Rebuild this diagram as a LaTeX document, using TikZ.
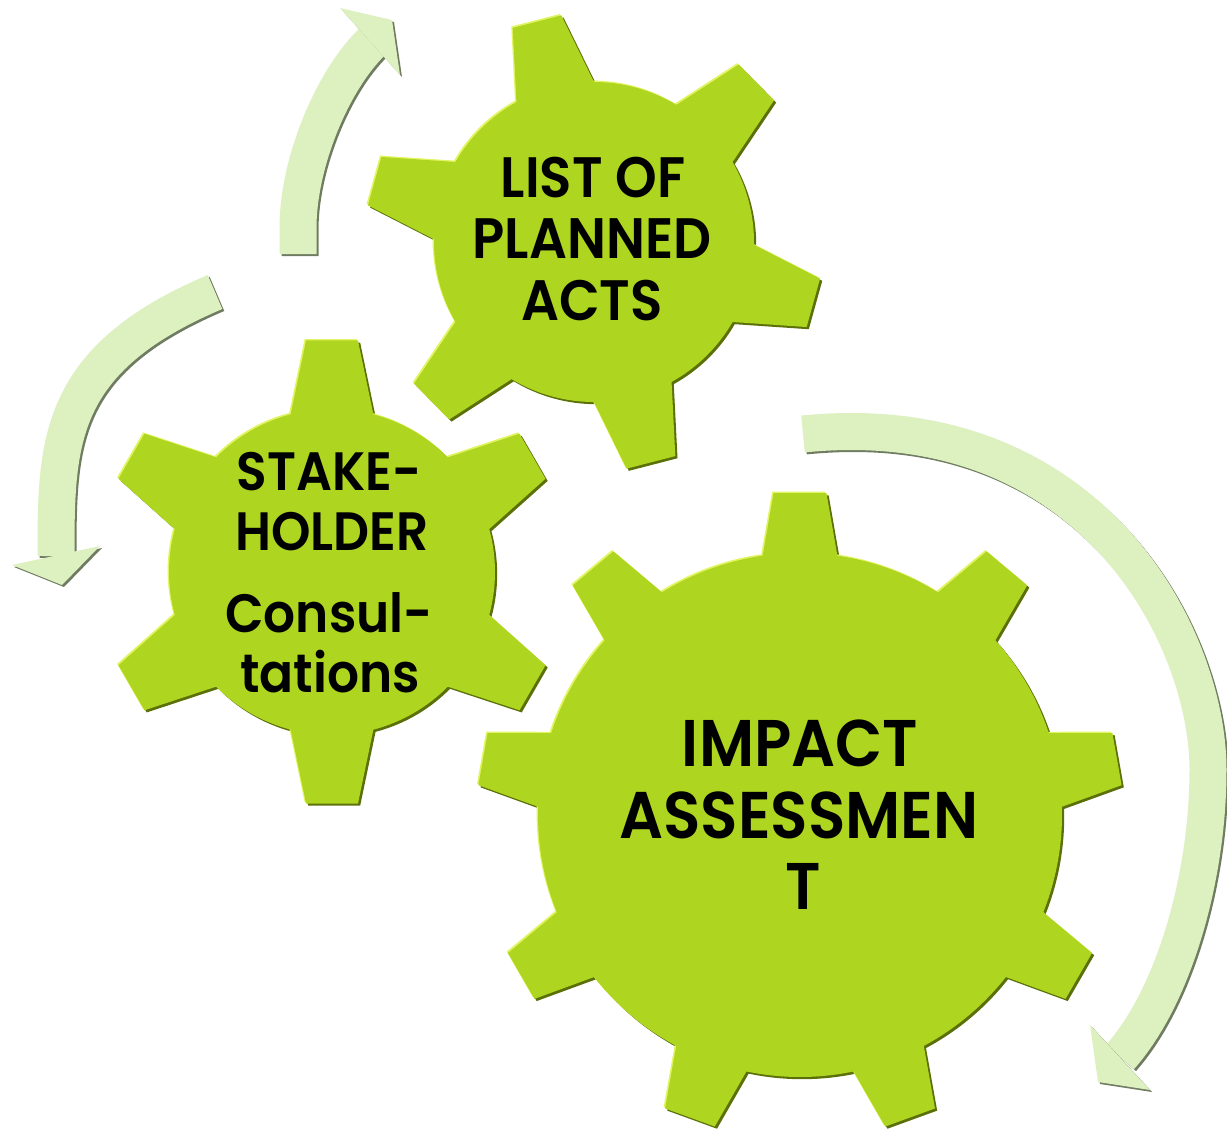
\documentclass[tikz,border=0pt]{standalone}
\usepackage{fontspec}
\setmainfont{Poppins}
\newfontfamily\gfont{Poppins SemiBold}[FakeStretch=0.93]
\definecolor{gearfill}{RGB}{174,213,31}
\definecolor{geardark}{RGB}{92,112,10}
\definecolor{gearlight}{RGB}{226,244,100}
\definecolor{arrowfill}{RGB}{221,240,192}
\definecolor{arrowdark}{RGB}{112,124,98}
% #1 cx, #2 cy, #3 r, #4 tip radius, #5 n, #6 a0, #7 base half-angle, #8 tip half-angle
\newcommand\drawgear[8]{%
  \foreach \dx/\dy/\col in {2.2/2.2/geardark,-1.4/-1.4/gearlight,0/0/gearfill}{%
    \fill[\col, shift={(#1+\dx,#2+\dy)}] (#6-#7:#3)
      \foreach \k in {1,...,#5}{
        -- ({#6+(\k-1)*360/#5-#8}:#4) -- ({#6+(\k-1)*360/#5+#8}:#4)
        -- ({#6+(\k-1)*360/#5+#7}:#3)
        arc[start angle={#6+(\k-1)*360/#5+#7}, end angle={#6+\k*360/#5-#7}, radius=#3pt]
      } -- cycle;
  }%
}
\tikzset{
  shaft/.style={line width=37pt, arrowfill},
  shaftshadow/.style={line width=37pt, arrowdark, shift={(2,2)}},
  shaftlight/.style={line width=37pt, white, shift={(-1.2,-1.2)}},
  gtxt/.style={anchor=base, inner sep=0pt, text=black, font=\gfont\fontsize{#1}{#1}\selectfont},
}
\begin{document}
\begin{tikzpicture}[x=1pt, y=1pt, yscale=-1]
\useasboundingbox (0,0) rectangle (1227,1129);

% ---- arrows ----
% arrow A (top, pointing up-right)
\def\pathA{(298,254) -- (298,228) .. controls (298,163) and (332,81) .. (372,42)}
\draw[shaftshadow] \pathA;
\draw[shaftlight] \pathA;
\draw[shaft] \pathA;
\fill[arrowdark, shift={(2,2)}] (340,8) -- (392,20) -- (400,75) -- cycle;
\fill[arrowfill] (340,8) -- (392,20) -- (400,75) -- cycle;

% arrow B (left, pointing down)
\def\pathB{(215,292) .. controls (57,359) and (56,441) .. (56,556)}
\draw[shaftshadow] \pathB;
\draw[shaftlight] \pathB;
\draw[shaft] \pathB;
\fill[arrowdark, shift={(2,2)}] (12,565) -- (100,546) -- (62,585) -- cycle;
\fill[arrowfill] (12,565) -- (100,546) -- (62,585) -- cycle;

% arrow C (right, pointing down-left)
\def\pathC{(803,434) .. controls (1090,405) and (1208,636) .. (1208,770) .. controls (1208,875) and (1175,995) .. (1120,1057)}
\draw[shaftshadow] \pathC;
\draw[shaftlight] \pathC;
\draw[shaft] \pathC;
\fill[arrowdark, shift={(2,2)}] (1090,1025) -- (1150,1090) -- (1098,1082) -- cycle;
\fill[arrowfill] (1090,1025) -- (1150,1090) -- (1098,1082) -- cycle;

% ---- gears ----
\drawgear{594}{242}{160}{229}{6}{15.5}{14.5}{6.3}
\drawgear{332}{572}{163}{233}{6}{270}{14.7}{6.4}
\drawgear{800}{815}{262}{323}{9}{270}{8.2}{4.7}

% ---- texts ----
\node[gtxt=57] (g1a) at (593,197) {LIST OF};
\node[gtxt=57] (g1b) at (592,258) {PLANNED};
\node[gtxt=57] (g1c) at (592,320) {ACTS};

\node[gtxt=54] (g2a) at (329,490) {STAKE-};
\node[gtxt=54] (g2b) at (332,550) {HOLDER};
\node[gtxt=54] (g2c) at (329,632) {Consul-};
\node[gtxt=54] (g2d) at (330,692) {tations};

\node[gtxt=66] (g3a) at (800,766) {IMPACT};
\node[gtxt=66] (g3b) at (799,838) {ASSESSMEN};
\node[gtxt=66] (g3c) at (803,909) {T};
\end{tikzpicture}
\end{document}
